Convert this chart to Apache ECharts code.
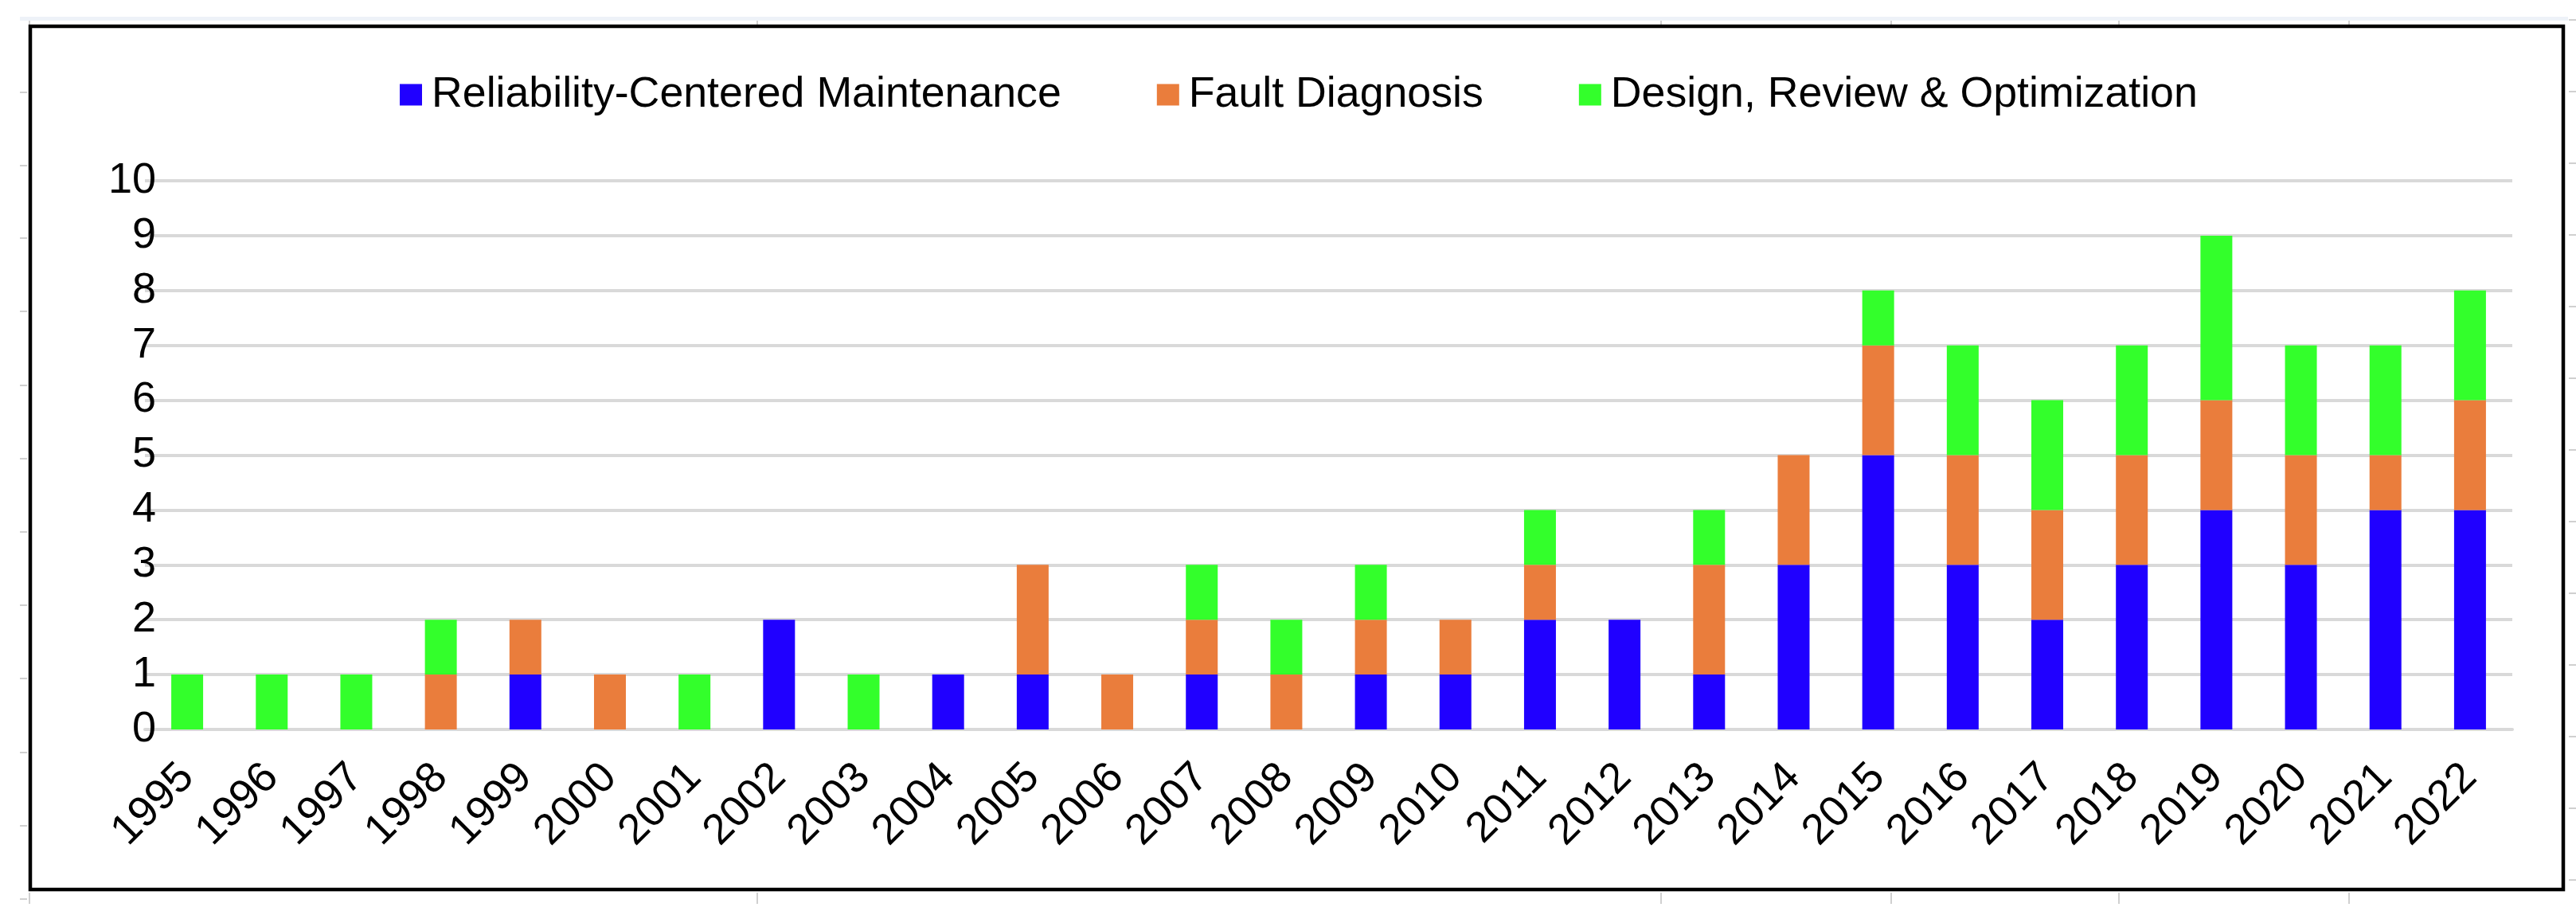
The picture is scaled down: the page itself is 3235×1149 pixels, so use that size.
<!DOCTYPE html>
<html>
<head>
<meta charset="utf-8">
<script src="https://cdn.jsdelivr.net/npm/echarts@6/dist/echarts.min.js"></script>
<style>
html,body{margin:0;padding:0;background:#fff;}
#chart{width:3235px;height:1149px;}
</style>
</head>
<body>
<div id="chart"></div>
<script>
var years = ['1995','1996','1997','1998','1999','2000','2001','2002','2003','2004','2005','2006','2007','2008','2009','2010','2011','2012','2013','2014','2015','2016','2017','2018','2019','2020','2021','2022'];
var rcm       = [0,0,0,0,1,0,0,2,0,1,1,0,1,0,1,1,2,2,1,3,5,3,2,3,4,3,4,4];
var fault     = [0,0,0,1,1,1,0,0,0,0,2,1,1,1,1,1,1,0,2,2,2,2,2,2,2,2,1,2];
var design    = [1,1,1,1,0,0,1,0,1,0,0,0,1,1,1,0,1,0,1,0,1,2,2,2,3,2,2,2];
var seriesNames = ['Reliability-Centered Maintenance','Fault Diagnosis','Design, Review & Optimization'];
var yTicks = [0,1,2,3,4,5,6,7,8,9,10];

var FONT = '"Liberation Sans", Arial, sans-serif';
var chart = echarts.init(document.getElementById('chart'), null, {renderer:'canvas'});

function toZero(arr){ return arr.map(function(v){ return v === 0 ? null : v; }); }

// decorative spreadsheet frame artifacts
var deco = [];
deco.push({type:'rect', shape:{x:25,y:21,width:3200,height:5}, style:{fill:'#eef2f8'}, silent:true});
[37,951,2086,2375,2661,2950].forEach(function(x){
  deco.push({type:'line', shape:{x1:x,y1:26,x2:x,y2:31}, style:{stroke:'#d0d0d0',lineWidth:2}, silent:true});
  deco.push({type:'line', shape:{x1:x,y1:1121,x2:x,y2:1135}, style:{stroke:'#d0d0d0',lineWidth:2}, silent:true});
});
[116,208,299,391,484,576,668,760,852,945,1037,1129].forEach(function(y){
  deco.push({type:'line', shape:{x1:25,y1:y,x2:34,y2:y}, style:{stroke:'#d0d0d0',lineWidth:2}, silent:true});
});
[25,115,205,295,385,475,565,655,745,835,925,1015,1105].forEach(function(y){
  deco.push({type:'line', shape:{x1:3226,y1:y,x2:3235,y2:y}, style:{stroke:'#d0d0d0',lineWidth:2}, silent:true});
});
deco.push({type:'rect', shape:{x:38,y:33,width:3181,height:1084},
  style:{fill:'none',stroke:'#000',lineWidth:4.5}, silent:true, z:100});

var option = {
  backgroundColor:'#fff',
  animation:false,
  graphic: deco,
  legend:{
    data: seriesNames,
    left: 497,
    top: 87,
    itemWidth: 28,
    itemHeight: 27,
    itemGap: 120,
    icon: 'rect',
    textStyle:{fontFamily:FONT,fontSize:53.7,color:'#000',padding:[0,0,0,7]}
  },
  grid:{left:182,right:80,top:227,bottom:233,containLabel:false},
  xAxis:{
    type:'category',
    data: years,
    boundaryGap:true,
    axisTick:{show:false},
    axisLine:{show:true,lineStyle:{color:'#d9d9d9',width:4}},
    axisLabel:{rotate:45,margin:52,fontFamily:FONT,fontSize:54,color:'#000',interval:0}
  },
  yAxis:{
    type:'value',
    min: yTicks[0],
    max: yTicks[yTicks.length-1],
    interval: 1,
    axisLine:{show:false},
    axisTick:{show:false},
    splitLine:{lineStyle:{color:'#d9d9d9',width:4}},
    axisLabel:{margin:-14,fontFamily:FONT,fontSize:54,color:'#000'}
  },
  series:[
    {name:seriesNames[0],type:'bar',stack:'total',barWidth:40,data:toZero(rcm),itemStyle:{color:'#2000FF'}},
    {name:seriesNames[1],type:'bar',stack:'total',barWidth:40,data:toZero(fault),itemStyle:{color:'#EA7D3C'}},
    {name:seriesNames[2],type:'bar',stack:'total',barWidth:40,data:toZero(design),itemStyle:{color:'#33FF2B'}}
  ]
};
chart.setOption(option);
</script>
</body>
</html>
